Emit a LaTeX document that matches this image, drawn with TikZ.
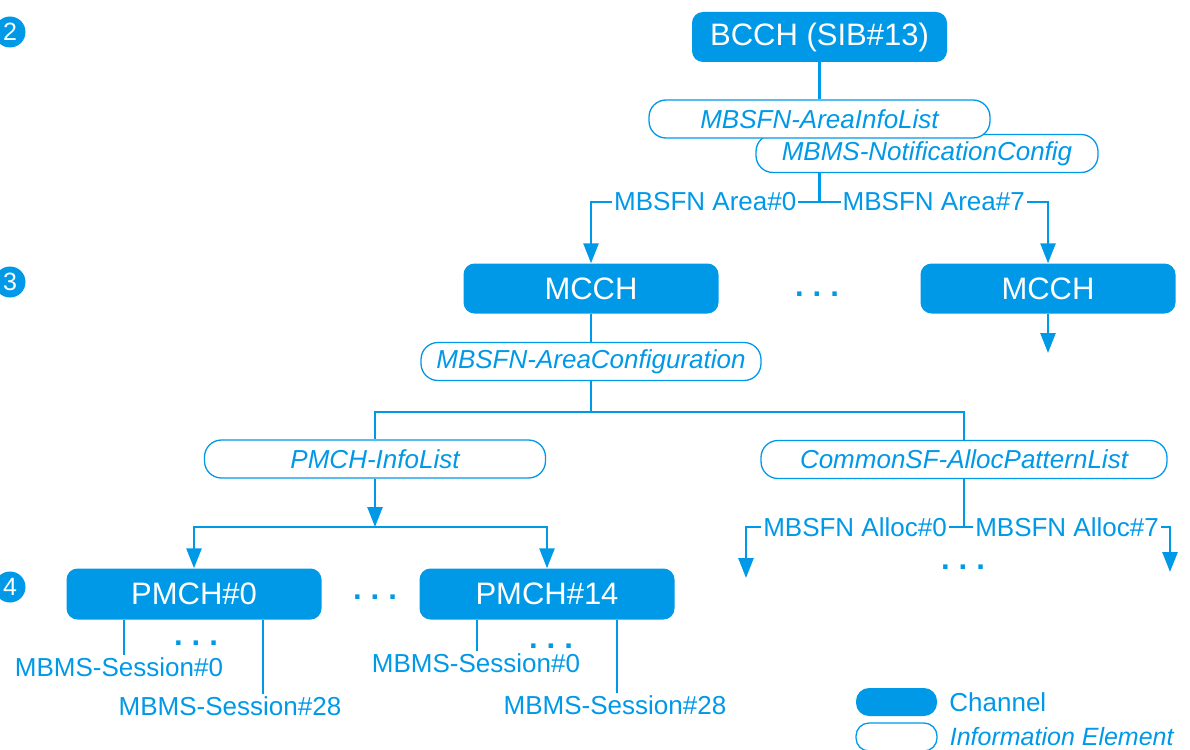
\documentclass[tikz,border=0pt]{standalone}
\usepackage{fontspec}
\setmainfont{Liberation Sans}
\usetikzlibrary{arrows.meta,positioning}
\definecolor{mbmsblue}{RGB}{0,153,232}

\begin{document}
\begin{tikzpicture}[x=1pt,y=-1pt,
  chan/.style={fill=mbmsblue, text=white, rounded corners=11pt, minimum width=255pt, minimum height=50pt, inner sep=0pt, font=\fontsize{31}{36}\selectfont},
  ie/.style={draw=mbmsblue, fill=white, line width=1.3pt, rounded corners=17pt, minimum height=38pt, inner sep=0pt, text=mbmsblue, font=\fontsize{26}{30}\selectfont\itshape},
  lbl/.style={fill=white, text=mbmsblue, inner sep=2pt, font=\fontsize{26}{30}\selectfont},
  conn/.style={draw=mbmsblue, line width=2.6pt},
  arr/.style={conn, -{Triangle[length=20pt, width=15pt]}},
  sess/.style={draw=mbmsblue, line width=2pt},
  num/.style={circle, fill=mbmsblue, text=white, minimum size=31pt, inner sep=0pt, font=\fontsize{25}{30}\selectfont},
  ellip/.style={text=mbmsblue, anchor=base, inner sep=0pt, font=\fontsize{31}{36}\selectfont\bfseries}]
\useasboundingbox (0,0) rectangle (1190,749);

% level numbers
\node[num] (n2) at (10,32) {2};
\node[num] (n3) at (10,282) {3};
\node[num] (n4) at (10,587) {4};

% level 2
\node[chan] (bcch) at (819.5,37) {BCCH (SIB\#13)};
\node[ie, minimum width=342pt] (notif) at (927,153.5) {MBMS-NotificationConfig};
\node[ie, minimum width=341pt] (areainfo) at (819.5,119) {MBSFN-AreaInfoList};
\coordinate (split1) at (819.5,202);

% level 3
\node[chan] (mcchA) at (591,288.5) {MCCH};
\node[chan] (mcchB) at (1048,288.5) {MCCH};
\node[ellip] at (817,296) {.\hspace{9pt}.\hspace{9pt}.};
\coordinate (mcchBout) at (1048,353);
\node[ie, minimum width=340pt] (areaconf) at (591,361.5) {MBSFN-AreaConfiguration};
\coordinate (split2) at (591,412);
\node[ie, minimum width=341pt] (pmchlist) at (375,459) {PMCH-InfoList};
\node[ie, minimum width=406pt] (commonsf) at (964,459.5) {CommonSF-AllocPatternList};
\coordinate (split3) at (375,527);
\coordinate (split4) at (964,527);
\coordinate (allocL) at (746,578);
\coordinate (allocR) at (1170,572);
\node[ellip] at (963,569) {.\hspace{9pt}.\hspace{9pt}.};

% level 4
\node[chan, minimum height=51pt] (pmch0) at (194,594) {PMCH\#0};
\node[chan, minimum height=51pt] (pmch14) at (547,594) {PMCH\#14};
\node[ellip] at (375,599) {.\hspace{9pt}.\hspace{9pt}.};
\node[lbl] (s00) at (119,667) {MBMS-Session\#0};
\node[lbl] (s028) at (230,706) {MBMS-Session\#28};
\node[lbl] (s140) at (476,663) {MBMS-Session\#0};
\node[lbl] (s1428) at (615,705) {MBMS-Session\#28};
\node[ellip] at (196,645) {.\hspace{9pt}.\hspace{9pt}.};
\node[ellip] at (551,648) {.\hspace{9pt}.\hspace{9pt}.};

% connectors
\draw[conn] (bcch) -- (areainfo);
\draw[conn] (bcch |- notif.south) -- (split1);
\draw[arr] (split1) -- node[lbl] {MBSFN Area\#0} (split1 -| mcchA) -- (mcchA);
\draw[arr] (split1) -- node[lbl] {MBSFN Area\#7} (split1 -| mcchB) -- (mcchB);
\draw[arr] (mcchB) -- (mcchBout);
\draw[conn] (mcchA) -- (areaconf);
\draw[conn] (areaconf) -- (split2);
\draw[conn] (split2) -| (pmchlist);
\draw[conn] (split2) -| (commonsf);
\draw[arr] (pmchlist) -- (split3);
\draw[arr] (split3) -| (pmch0);
\draw[arr] (split3) -| (pmch14);
\draw[conn] (commonsf) -- (split4);
\draw[arr] (split4) -- node[lbl] {MBSFN Alloc\#0} (split4 -| allocL) -- (allocL);
\draw[arr] (split4) -- node[lbl] {MBSFN Alloc\#7} (split4 -| allocR) -- (allocR);

\draw[sess] ([xshift=5pt]s00.north |- pmch0.south) -- ([xshift=5pt]s00.north);
\draw[sess] ([xshift=33pt]s028.north |- pmch0.south) -- ([xshift=33pt]s028.north);
\draw[sess] ([xshift=1pt]s140.north |- pmch14.south) -- ([xshift=1pt]s140.north);
\draw[sess] ([xshift=2pt]s1428.north |- pmch14.south) -- ([xshift=2pt]s1428.north);

% legend
\node[chan, minimum width=81pt, minimum height=28pt, rounded corners=13pt] (legChan) at (896.5,702) {};
\node[lbl, right=12pt of legChan, inner sep=0pt] (legChanTxt) {Channel};
\node[ie, minimum width=81pt, minimum height=28pt, rounded corners=13pt] (legIE) at (896.5,737) {};
\node[lbl, right=12pt of legIE, inner sep=0pt, font=\fontsize{25}{30}\selectfont\itshape] (legIETxt) {Information Element};
\end{tikzpicture}
\end{document}
